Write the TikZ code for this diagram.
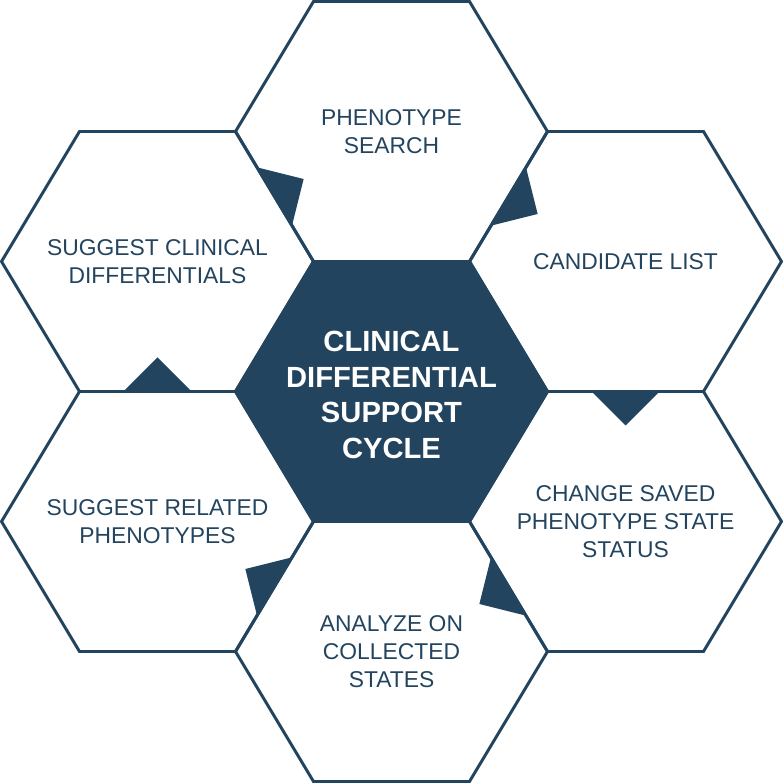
\documentclass[tikz,border=0pt]{standalone}
\usepackage{fontspec}
\setmainfont{Liberation Sans}
\usepackage{xcolor}
\usepackage{tikz}
\usetikzlibrary{positioning,calc}
\definecolor{navy}{HTML}{23445E}

\begin{document}
\begin{tikzpicture}[
    cell/.style={align=center, text=navy, font=\fontsize{13}{15.9}\selectfont},
    core/.style={align=center, text=white, font=\bfseries\fontsize{16.6}{20.2}\selectfont},
    hexline/.style={draw=navy, line width=1.7pt},
    tip/.style={fill=navy}
]
    \useasboundingbox (0,0) rectangle (15.66,15.66);

    % Centre
    \draw[hexline, fill=navy] (4.71,7.83) -- ++(1.56,2.6) -- ++(3.12,0) -- ++(1.56,-2.6) -- ++(-1.56,-2.6) -- ++(-3.12,0) -- cycle;
    \node[core] (core) at (7.83,7.76) {CLINICAL\\DIFFERENTIAL\\SUPPORT\\CYCLE};

    % Steps
    \node[cell] (search) at (7.83,13.03) {PHENOTYPE\\SEARCH};
    \node[cell] (candidate) at (12.51,10.43) {CANDIDATE LIST};
    \node[cell] (change) at (12.51,5.23) {CHANGE SAVED\\PHENOTYPE STATE\\STATUS};
    \node[cell] (analyze) at (7.83,2.63) {ANALYZE ON\\COLLECTED\\STATES};
    \node[cell] (related) at (3.15,5.23) {SUGGEST RELATED\\PHENOTYPES};
    \node[cell] (suggest) at (3.15,10.43) {SUGGEST CLINICAL\\DIFFERENTIALS};

    \foreach \c in {search,candidate,change,analyze,related,suggest}
        \draw[hexline] ($(\c.center)+(-3.12,0)$) -- ++(1.56,2.6) -- ++(3.12,0) -- ++(1.56,-2.6) -- ++(-1.56,-2.6) -- ++(-3.12,0) -- cycle;

    % Cycle
    \foreach \a/\b/\ang in {suggest/search/30.96, search/candidate/-30.96, candidate/change/-90, change/analyze/-149.04, analyze/related/149.04, related/suggest/90}
        \fill[tip] ($(\a.center)!0.5!(\b.center)+({\ang+90}:0.68)$) -- ($(\a.center)!0.5!(\b.center)+(\ang:0.68)$) -- ($(\a.center)!0.5!(\b.center)+({\ang-90}:0.68)$) -- cycle;
\end{tikzpicture}
\end{document}
